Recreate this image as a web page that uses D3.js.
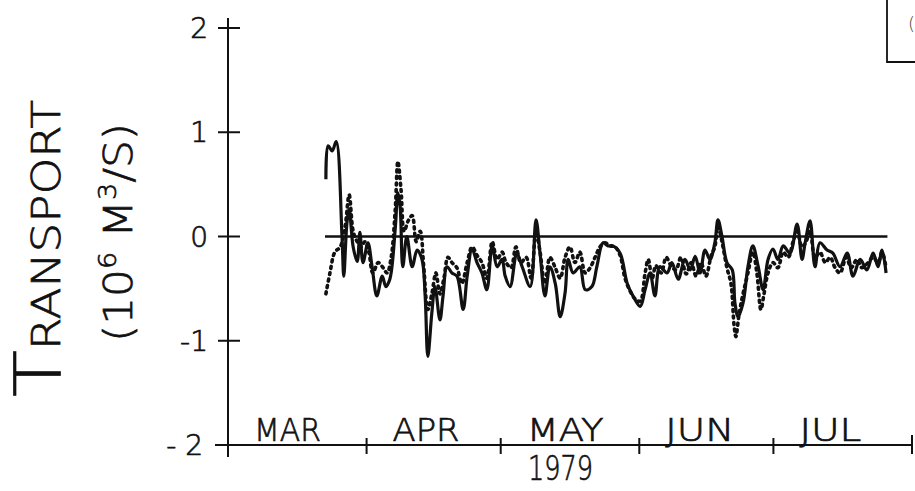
<!DOCTYPE html>
<html>
<head>
<meta charset="utf-8">
<script src="https://cdn.jsdelivr.net/npm/d3@7"></script>
<style>
  html, body { margin: 0; padding: 0; background: #fff; }
  svg { display: block; }
  text { font-family: "DejaVu Sans", "Liberation Sans", sans-serif; font-weight: 200; fill: #111; stroke: #111; stroke-width: 0.7px; }
</style>
</head>
<body>
<svg id="chart" width="915" height="491"></svg>
<script>
// ---- data (days since 1 Mar 1979, transport in 10^6 m^3/s) ----
const months = ["MAR", "APR", "MAY", "JUN", "JUL"];
const monthStarts = [0, 31, 61, 92, 122, 153];
const yearLabel = "1979";
const yTicks = [-2, -1, 0, 1, 2];
const yTickLabels = ["- 2", "-1", "0", "1", "2"];

const solidSeries = [
  [21.9, 0.55], [22.4, 0.87], [23.3, 0.82], [24.2, 0.91], [25.5, 0.00], [25.9, -0.38],
  [26.6, 0.13], [27.1, 0.26], [28.0, -0.10], [28.9, -0.24], [29.5, 0.04], [30.2, -0.25],
  [31.3, -0.06], [32.2, -0.28], [33.3, -0.57], [34.5, -0.38], [35.3, -0.48], [36.2, -0.41],
  [37.4, 0.07], [38.0, 0.42], [38.5, 0.29], [39.1, -0.29], [40.0, 0.00], [41.2, -0.29],
  [42.3, -0.13], [43.4, -0.22], [44.1, -0.57], [44.7, -1.15], [45.6, -0.73], [46.3, -0.48],
  [47.4, -0.80], [48.1, -0.57], [49.0, -0.29], [50.1, -0.35], [51.2, -0.38], [52.6, -0.70],
  [53.5, -0.38], [54.6, -0.12], [55.7, -0.25], [56.8, -0.35], [57.9, -0.51], [59.1, -0.09],
  [60.2, -0.29], [61.3, -0.22], [62.0, -0.38], [63.1, -0.48], [64.6, -0.16], [65.8, -0.29],
  [67.6, -0.48], [68.9, 0.16], [69.8, -0.16], [70.9, -0.57], [72.0, -0.29], [73.2, -0.45],
  [74.3, -0.77], [75.4, -0.54], [76.1, -0.22], [77.2, -0.35], [78.7, -0.29], [79.9, -0.51],
  [81.4, -0.48], [82.5, -0.29], [83.9, -0.06], [85.0, -0.09], [86.1, -0.09], [87.7, -0.16],
  [89.3, -0.45], [90.6, -0.57], [92.2, -0.67], [93.3, -0.51], [94.4, -0.35], [95.5, -0.57],
  [96.6, -0.29], [98.2, -0.35], [99.3, -0.25], [100.7, -0.41], [102.2, -0.22], [103.4, -0.32],
  [104.5, -0.19], [105.6, -0.35], [106.7, -0.13], [107.8, -0.22], [108.9, -0.06], [109.6, 0.16],
  [110.5, 0.00], [111.6, -0.25], [112.8, -0.32], [113.4, -0.64], [114.1, -0.77], [115.2, -0.64],
  [116.3, -0.29], [117.4, -0.09], [118.6, -0.29], [119.7, -0.51], [120.8, -0.22], [121.9, -0.12],
  [123.0, -0.22], [124.2, -0.09], [125.7, -0.16], [127.3, 0.12], [128.4, -0.22], [129.1, -0.06],
  [130.2, 0.15], [131.3, -0.29], [132.4, -0.06], [134.0, -0.13], [135.3, -0.16], [136.9, -0.29],
  [138.5, -0.16], [139.8, -0.38], [141.4, -0.22], [142.9, -0.32], [144.3, -0.16], [145.4, -0.29],
  [146.3, -0.13], [147.2, -0.35]
];

const dottedSeries = [
  [21.9, -0.55], [22.8, -0.35], [23.9, -0.15], [25.1, -0.10], [26.2, 0.10], [27.1, 0.40],
  [28.0, 0.05], [28.9, -0.05], [29.8, -0.10], [30.6, -0.05], [31.5, -0.15], [32.4, -0.35],
  [33.6, -0.25], [34.7, -0.30], [35.6, -0.35], [36.5, -0.20], [37.4, 0.25], [38.0, 0.72],
  [38.7, 0.45], [39.4, 0.05], [40.3, 0.15], [41.2, 0.20], [42.1, -0.05], [43.0, 0.05],
  [43.8, -0.30], [44.7, -0.70], [45.6, -0.55], [46.5, -0.35], [47.4, -0.55], [48.3, -0.40],
  [49.2, -0.20], [50.1, -0.25], [51.2, -0.30], [52.3, -0.45], [53.5, -0.25], [54.6, -0.10],
  [55.7, -0.18], [56.8, -0.25], [57.9, -0.40], [59.1, -0.05], [60.2, -0.22], [61.3, -0.15],
  [62.2, -0.25], [63.3, -0.30], [64.4, -0.10], [65.5, -0.25], [66.7, -0.20], [67.8, -0.40],
  [68.9, 0.05], [69.8, -0.15], [70.9, -0.45], [72.0, -0.20], [73.2, -0.30], [74.3, -0.40],
  [75.4, -0.20], [76.5, -0.10], [77.6, -0.25], [78.7, -0.15], [79.9, -0.35], [81.0, -0.30],
  [82.1, -0.20], [83.2, -0.10], [84.3, -0.06], [85.5, -0.09], [86.6, -0.10], [87.7, -0.18],
  [88.8, -0.40], [89.9, -0.52], [91.1, -0.60], [92.2, -0.62], [93.3, -0.35], [94.0, -0.22],
  [94.9, -0.40], [95.7, -0.28], [96.9, -0.35], [98.0, -0.20], [99.1, -0.28], [100.2, -0.32],
  [101.3, -0.20], [102.5, -0.36], [103.6, -0.25], [104.7, -0.38], [105.8, -0.25], [106.9, -0.38],
  [108.1, -0.18], [108.9, -0.10], [109.6, 0.10], [110.5, -0.05], [111.6, -0.30], [112.5, -0.45],
  [113.2, -0.85], [113.6, -0.96], [114.3, -0.75], [115.2, -0.55], [116.3, -0.35], [117.4, -0.15],
  [118.3, -0.35], [119.2, -0.70], [119.9, -0.55], [120.8, -0.35], [121.9, -0.25], [123.0, -0.30],
  [124.2, -0.15], [125.3, -0.20], [126.4, -0.05], [127.3, 0.05], [128.4, -0.10], [129.3, -0.05],
  [130.2, 0.05], [131.3, -0.20], [132.4, -0.15], [133.6, -0.25], [134.7, -0.20], [135.8, -0.30],
  [136.9, -0.35], [138.3, -0.20], [139.4, -0.30], [140.7, -0.22], [141.8, -0.30], [143.2, -0.25],
  [144.3, -0.20], [145.4, -0.25], [146.3, -0.15], [147.2, -0.30]
];

// ---- drawing ----
const svg = d3.select("#chart");
const x = d3.scaleLinear().domain([0, 153]).range([228, 912]);
const y = d3.scaleLinear().domain([-2, 2]).range([445, 28]);
const ink = "#111";

// y axis
svg.append("line").attr("x1", x(0)).attr("x2", x(0))
  .attr("y1", y(2) - 10).attr("y2", y(-2) + 12)
  .attr("stroke", ink).attr("stroke-width", 2);
svg.selectAll(".ytick").data(yTicks.filter(d => d > -2)).join("line")
  .attr("x1", x(0) - 10).attr("x2", x(0) + 12)
  .attr("y1", d => y(d)).attr("y2", d => y(d))
  .attr("stroke", ink).attr("stroke-width", 2);
svg.selectAll(".ylab").data(yTicks).join("text")
  .attr("x", d => d === -2 ? 203 : 208)
  .attr("y", d => y(d) + 10)
  .attr("text-anchor", "end")
  .attr("font-size", 28)
  .text((d, i) => yTickLabels[i]);

// x axis
svg.append("line").attr("x1", x(0) - 13).attr("x2", x(153))
  .attr("y1", y(-2)).attr("y2", y(-2))
  .attr("stroke", ink).attr("stroke-width", 2);
svg.selectAll(".xtick").data(monthStarts.slice(1)).join("line")
  .attr("x1", d => x(d)).attr("x2", d => x(d))
  .attr("y1", (d, i) => y(-2) - (i === 4 ? 10 : 7))
  .attr("y2", y(-2) + 9)
  .attr("stroke", ink).attr("stroke-width", 2);
const labelLen = [67, 67, 77, 69, 62];
svg.selectAll(".mlab").data(months).join("text")
  .attr("x", (d, i) => x(monthStarts[i]) + 26)
  .attr("y", y(-2) - 4)
  .attr("font-size", 32)
  .attr("textLength", (d, i) => labelLen[i])
  .attr("lengthAdjust", "spacingAndGlyphs")
  .text(d => d);
svg.append("text")
  .attr("x", 528).attr("y", 480)
  .attr("font-size", 34)
  .attr("textLength", 65).attr("lengthAdjust", "spacingAndGlyphs")
  .text(yearLabel);

// axis titles
const t1 = svg.append("text")
  .attr("transform", "translate(60,397) rotate(-90)")
  .attr("textLength", 297).attr("lengthAdjust", "spacingAndGlyphs");
t1.append("tspan").attr("font-size", 64).text("T");
t1.append("tspan").attr("font-size", 39).text("RANSPORT");

const t2 = svg.append("text")
  .attr("transform", "translate(132,342) rotate(-90)")
  .attr("font-size", 39)
  .attr("textLength", 219).attr("lengthAdjust", "spacingAndGlyphs");
t2.append("tspan").text("(10");
t2.append("tspan").attr("font-size", 24).attr("dy", -16).text("6");
t2.append("tspan").attr("dy", 16).text(" M");
t2.append("tspan").attr("font-size", 24).attr("dy", -16).text("3");
t2.append("tspan").attr("dy", 16).text("/S)");

// zero line
svg.append("line").attr("x1", x(21.7)).attr("x2", x(147.5))
  .attr("y1", y(0)).attr("y2", y(0))
  .attr("stroke", ink).attr("stroke-width", 2.6);

// series
const line = d3.line().x(d => x(d[0])).y(d => y(d[1])).curve(d3.curveCatmullRom.alpha(0.5));
svg.append("path").datum(dottedSeries).attr("d", line)
  .attr("fill", "none").attr("stroke", ink).attr("stroke-width", 3.6)
  .attr("stroke-linecap", "round").attr("stroke-dasharray", "2,4.5");
svg.append("path").datum(solidSeries).attr("d", line)
  .attr("fill", "none").attr("stroke", ink).attr("stroke-width", 3.2)
  .attr("stroke-linejoin", "round");

// panel box fragment (top right)
svg.append("path").attr("d", "M887,0 L887,62 L915,62")
  .attr("fill", "none").attr("stroke", ink).attr("stroke-width", 1.8);
svg.append("text").attr("x", 908).attr("y", 30).attr("font-size", 18)
  .style("fill", "#444").style("stroke", "none").text("(");
</script>
</body>
</html>
